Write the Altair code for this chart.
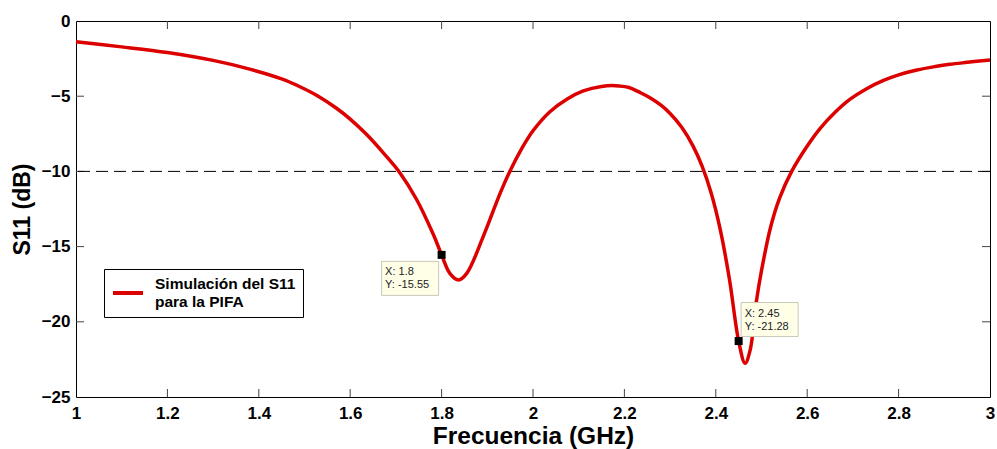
import altair as alt
import pandas as pd

# Simulated return loss of the PIFA antenna
freq_ghz = [1.00, 1.10, 1.20, 1.30, 1.38, 1.45, 1.49, 1.53, 1.57, 1.60,
            1.636, 1.672, 1.709, 1.745, 1.782, 1.80, 1.818, 1.837, 1.855, 1.891,
            1.928, 1.95, 1.975, 2.00, 2.037, 2.074, 2.11, 2.15, 2.18, 2.21,
            2.234, 2.256, 2.28, 2.30, 2.325, 2.35, 2.37, 2.39, 2.41, 2.43,
            2.45, 2.464, 2.475, 2.489, 2.50, 2.52, 2.54, 2.566, 2.599, 2.628,
            2.66, 2.694, 2.73, 2.767, 2.80, 2.84, 2.88, 2.912, 2.95, 3.00]
s11_db = [-1.38, -1.72, -2.10, -2.62, -3.20, -3.85, -4.37, -5.00, -5.80, -6.52,
          -7.55, -8.75, -10.10, -11.85, -14.20, -15.55, -16.78, -17.22, -16.78, -14.34,
          -11.46, -9.95, -8.50, -7.30, -6.03, -5.20, -4.65, -4.35, -4.30, -4.42,
          -4.75, -5.10, -5.60, -6.15, -7.05, -8.30, -9.65, -11.45, -13.90, -17.20,
          -21.28, -22.76, -21.90, -18.60, -16.60, -13.70, -11.75, -10.00, -8.36, -7.15,
          -6.10, -5.20, -4.50, -3.95, -3.58, -3.26, -3.03, -2.88, -2.75, -2.59]
series_name = "Simulación del S11\npara la PIFA"

# Data tips placed on the curve
tip_x = [1.8, 2.45]
tip_y = [-15.55, -21.28]
tip_dx = [-31.5, 31]      # box offset from the marked point (px)
tip_dy = [23.5, -21.5]

# Axis ticks and threshold
x_ticks = [1, 1.2, 1.4, 1.6, 1.8, 2, 2.2, 2.4, 2.6, 2.8, 3]
y_ticks = [0, -5, -10, -15, -20, -25]
x_inner_ticks = [1.2, 1.4, 1.6, 1.8, 2.0, 2.2, 2.4, 2.6, 2.8]
y_inner_ticks = [-5, -10, -15, -20]
threshold_db = -10

W, H = 914, 376
FONT = "Liberation Sans"

curve = pd.DataFrame({"f": freq_ghz, "s11": s11_db, "serie": series_name})

xs = alt.Scale(domain=[1, 3], nice=False, zero=False)
ys = alt.Scale(domain=[-25, 0], nice=False, zero=False)

x_axis = alt.Axis(values=x_ticks, format="~g", ticks=False, tickSize=0, domain=False,
                  grid=False, labelFont=FONT, labelFontWeight="bold", labelFontSize=17,
                  labelColor="#000", labelPadding=8, labelFlush=False,
                  title="Frecuencia (GHz)", titleFont=FONT, titleFontWeight="bold",
                  titleFontSize=24.5, titleColor="#000", titleY=46,
                  titleBaseline="alphabetic")
y_axis = alt.Axis(values=y_ticks, format="~g", ticks=False, tickSize=0, domain=False,
                  grid=False, labelFont=FONT, labelFontWeight="bold", labelFontSize=17,
                  labelColor="#000", labelPadding=6, labelFlush=False,
                  title="S11 (dB)", titleFont=FONT, titleFontWeight="bold",
                  titleFontSize=23, titleColor="#000", titleX=-54, titleY=H / 2,
                  titleAngle=-90, titleAlign="center", titleBaseline="middle")

line = alt.Chart(curve).mark_line(strokeWidth=3.5, interpolate="catmull-rom").encode(
    x=alt.X("f:Q", scale=xs, axis=x_axis),
    y=alt.Y("s11:Q", scale=ys, axis=y_axis),
    color=alt.Color(
        "serie:N",
        scale=alt.Scale(range=["#dd0000"]),
        legend=alt.Legend(
            title=None, orient="none", legendX=28, legendY=248,
            fillColor="#ffffff", strokeColor="#000000", padding=7,
            symbolType="stroke", symbolSize=900, symbolStrokeWidth=4,
            labelFont=FONT, labelFontWeight="bold", labelFontSize=15.5,
            labelColor="#000", labelLimit=400, labelOffset=10,
            labelBaseline="line-bottom",
            labelExpr="split(datum.label, '\\n')",
        ),
    ),
)

thr = alt.Chart(pd.DataFrame({"y": [threshold_db]})).mark_rule(
    color="#000", strokeWidth=1, strokeDash=[12, 6]
).encode(y=alt.Y("y:Q", scale=ys))

# Inward tick marks on all four sides of the box
xt = pd.DataFrame({"t": x_inner_ticks})
yt = pd.DataFrame({"t": y_inner_ticks})
tick_col = "#444"
xb = alt.Chart(xt).mark_rule(color=tick_col, strokeWidth=1).encode(
    x=alt.X("t:Q", scale=xs), y=alt.value(H), y2=alt.value(H - 8))
xtp = alt.Chart(xt).mark_rule(color=tick_col, strokeWidth=1).encode(
    x=alt.X("t:Q", scale=xs), y=alt.value(0), y2=alt.value(8))
yl = alt.Chart(yt).mark_rule(color=tick_col, strokeWidth=1).encode(
    y=alt.Y("t:Q", scale=ys), x=alt.value(0), x2=alt.value(8))
yr = alt.Chart(yt).mark_rule(color=tick_col, strokeWidth=1).encode(
    y=alt.Y("t:Q", scale=ys), x=alt.value(W), x2=alt.value(W - 8))

layers = [xb, xtp, yl, yr, thr, line]

for tx, ty, dx, dy in zip(tip_x, tip_y, tip_dx, tip_dy):
    label = f"X: {tx:g}\nY: {ty:g}"
    box = alt.Chart().mark_rect(
        width=57, height=34, fill="#ffffe8", stroke="#c8c8b8", strokeWidth=1,
        xOffset=dx, yOffset=dy,
    ).encode(x=alt.X(datum=tx, scale=xs), y=alt.Y(datum=ty, scale=ys))
    txt = alt.Chart().mark_text(
        align="left", baseline="middle", font=FONT, fontSize=11, color="#222",
        lineBreak="\n", lineHeight=13, xOffset=dx - 25, yOffset=dy - 6,
    ).encode(x=alt.X(datum=tx, scale=xs), y=alt.Y(datum=ty, scale=ys),
             text=alt.value(label))
    pt = alt.Chart().mark_square(size=64, color="#000", opacity=1).encode(
        x=alt.X(datum=tx, scale=xs), y=alt.Y(datum=ty, scale=ys))
    layers += [box, txt, pt]

chart = alt.layer(*layers).properties(
    width=W, height=H,
    autosize=alt.AutoSizeParams(type="none"),
    padding={"left": 76, "top": 21, "right": 7, "bottom": 52},
    background="#ffffff",
).configure_view(stroke="#000", strokeWidth=1)

chart.save("out.html", embed_options={"renderer": "svg", "actions": False})
